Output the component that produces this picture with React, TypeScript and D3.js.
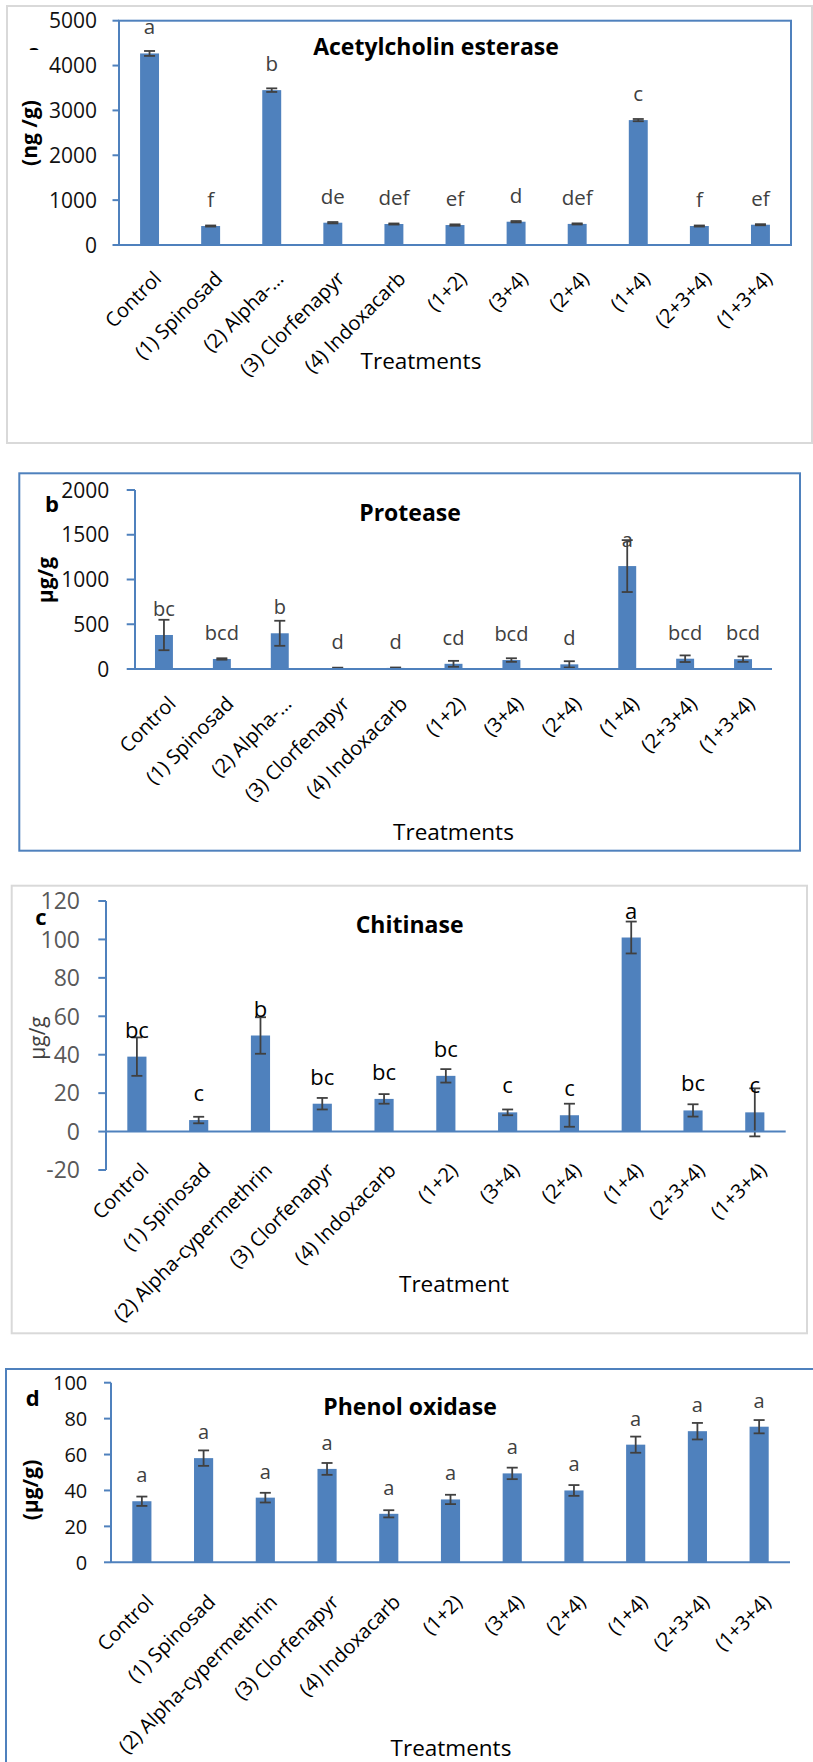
import React from 'react';
import * as d3 from 'd3';

// ---------- data ----------
const categoriesShort = ['Control', '(1) Spinosad', '(2) Alpha-…', '(3) Clorfenapyr', '(4) Indoxacarb', '(1+2)', '(3+4)', '(2+4)', '(1+4)', '(2+3+4)', '(1+3+4)'];
const categoriesFull = ['Control', '(1) Spinosad', '(2) Alpha-cypermethrin', '(3) Clorfenapyr', '(4) Indoxacarb', '(1+2)', '(3+4)', '(2+4)', '(1+4)', '(2+3+4)', '(1+3+4)'];

const acheMeans = [4270, 423, 3452, 497, 468, 445, 519, 470, 2784, 423, 452];
const acheErrors = [55, 12, 40, 15, 12, 15, 15, 12, 25, 12, 12];
const acheLetters = ['a', 'f', 'b', 'de', 'def', 'ef', 'd', 'def', 'c', 'f', 'ef'];
const acheTicks = [0, 1000, 2000, 3000, 4000, 5000];

const proteaseMeans = [380, 112, 399, 10, 12, 58, 100, 52, 1150, 115, 110];
const proteaseErrors = [170, 8, 140, 5, 5, 33, 20, 35, 290, 37, 30];
const proteaseLetters = ['bc', 'bcd', 'b', 'd', 'd', 'cd', 'bcd', 'd', 'a', 'bcd', 'bcd'];
const proteaseTicks = [0, 500, 1000, 1500, 2000];

const chitinaseMeans = [39, 6, 50, 14.5, 17, 29, 10, 8.5, 101, 11, 10];
const chitinaseErrors = [10, 1.7, 9.5, 3, 2.5, 3.5, 1.5, 6, 8.3, 3.2, 12.5];
const chitinaseLetters = ['bc', 'c', 'b', 'bc', 'bc', 'bc', 'c', 'c', 'a', 'bc', 'c'];
const chitinaseTicks = [-20, 0, 20, 40, 60, 80, 100, 120];

const phenolMeans = [34, 58, 36, 52, 27, 35, 49.5, 40, 65.5, 73, 75.5];
const phenolErrors = [2.6, 4.3, 2.7, 3.3, 2, 2.6, 3.2, 3, 4.5, 4.6, 3.7];
const phenolLetters = ['a', 'a', 'a', 'a', 'a', 'a', 'a', 'a', 'a', 'a', 'a'];
const phenolTicks = [0, 20, 40, 60, 80, 100];

// ---------- style ----------
const FONT = "'Open Sans', 'Noto Sans', sans-serif";
const BAR = '#4f81bd';
const BLUE = '#4f81bd';
const ERR = '#404040';
const GRAYFRAME = '#d9d9d9';
const CAT_SIZE = 20;

type TextSpec = { text: string; x: number; y: number; size?: number; weight?: number; color?: string };

type PanelCfg = {
  id: string;
  cats: string[];
  means: number[];
  errors: number[];
  letters: string[];
  ticks: number[];
  domain: [number, number];
  frame: { x: number; y: number; w: number; h: number; stroke: string };
  left: number;
  right: number;
  yTop: number;
  yBottom: number;
  box: boolean;
  tickLen: number;
  tickGap: number;
  tickSize: number;
  tickColor: string;
  letterSize: number;
  letterColor: string;
  labelGap: number;
  title: TextSpec;
  xTitle: TextSpec;
  yTitle: TextSpec;
  tag?: TextSpec;
};

const panels: PanelCfg[] = [
  {
    id: 'a', cats: categoriesShort, means: acheMeans, errors: acheErrors, letters: acheLetters, ticks: acheTicks,
    domain: [0, 5000],
    frame: { x: 7, y: 6, w: 805, h: 437, stroke: GRAYFRAME },
    left: 119, right: 791, yTop: 20.7, yBottom: 245, box: true,
    tickLen: 6.5, tickGap: 22, tickSize: 21, tickColor: '#111',
    letterSize: 20.5, letterColor: '#404040', labelGap: 25,
    title: { text: 'Acetylcholin esterase', x: 436, y: 55 },
    xTitle: { text: 'Treatments', x: 421, y: 369 },
    yTitle: { text: '(ng /g)', x: 30, y: 133, size: 21, weight: 700, color: '#000' },
  },
  {
    id: 'b', cats: categoriesShort, means: proteaseMeans, errors: proteaseErrors, letters: proteaseLetters, ticks: proteaseTicks,
    domain: [0, 2000],
    frame: { x: 19.3, y: 473.3, w: 780.7, h: 377.4, stroke: BLUE },
    left: 135, right: 772, yTop: 490, yBottom: 669, box: false,
    tickLen: 8.3, tickGap: 25.7, tickSize: 21, tickColor: '#111',
    letterSize: 20, letterColor: '#404040', labelGap: 26,
    title: { text: 'Protease', x: 410, y: 521 },
    xTitle: { text: 'Treatments', x: 453.5, y: 840 },
    yTitle: { text: 'µg/g', x: 46, y: 580, size: 21, weight: 700, color: '#000' },
    tag: { text: 'b', x: 52, y: 511.7 },
  },
  {
    id: 'c', cats: categoriesFull, means: chitinaseMeans, errors: chitinaseErrors, letters: chitinaseLetters, ticks: chitinaseTicks,
    domain: [-20, 120],
    frame: { x: 11.7, y: 885.7, w: 795.3, h: 447.6, stroke: GRAYFRAME },
    left: 106, right: 785.7, yTop: 901, yBottom: 1170, box: false,
    tickLen: 7.7, tickGap: 26, tickSize: 23, tickColor: '#595959',
    letterSize: 22, letterColor: '#000', labelGap: 30,
    title: { text: 'Chitinase', x: 409.6, y: 933 },
    xTitle: { text: 'Treatment', x: 454, y: 1292 },
    yTitle: { text: 'µg/g', x: 38, y: 1038, size: 21, weight: 400, color: '#404040' },
    tag: { text: 'c', x: 41, y: 925 },
  },
  {
    id: 'd', cats: categoriesFull, means: phenolMeans, errors: phenolErrors, letters: phenolLetters, ticks: phenolTicks,
    domain: [0, 100],
    frame: { x: 6, y: 1369, w: 820, h: 420, stroke: BLUE },
    left: 111, right: 790, yTop: 1382.7, yBottom: 1562.3, box: false,
    tickLen: 7, tickGap: 23.7, tickSize: 20, tickColor: '#111',
    letterSize: 20, letterColor: '#404040', labelGap: 31,
    title: { text: 'Phenol oxidase', x: 410, y: 1415 },
    xTitle: { text: 'Treatments', x: 451, y: 1756 },
    yTitle: { text: '(µg/g)', x: 31, y: 1490, size: 21, weight: 700, color: '#000' },
    tag: { text: 'd', x: 32.7, y: 1406 },
  },
];

function Panel({ p }: { p: PanelCfg }) {
  const x = d3.scaleBand<string>().domain(p.cats).range([p.left, p.right]).paddingInner(0.69).paddingOuter(0.345);
  const y = d3.scaleLinear().domain(p.domain).range([p.yBottom, p.yTop]);
  const y0 = y(0);
  const bw = x.bandwidth();
  const cap = 11;
  return (
    <g>
      <rect x={p.frame.x} y={p.frame.y} width={p.frame.w} height={p.frame.h} fill="none" stroke={p.frame.stroke} strokeWidth={2} />
      {/* bars */}
      {p.cats.map((c, i) => {
        const v = p.means[i];
        const top = Math.min(y(v), y0);
        const h = Math.abs(y(v) - y0);
        return <rect key={'bar' + i} x={x(c)!} y={top} width={bw} height={h} fill={BAR} />;
      })}
      {/* error bars */}
      {p.cats.map((c, i) => {
        const cx = x(c)! + bw / 2;
        const hi = y(p.means[i] + p.errors[i]);
        const lo = y(p.means[i] - p.errors[i]);
        return (
          <g key={'err' + i} stroke={ERR} strokeWidth={1.8}>
            <line x1={cx} x2={cx} y1={hi} y2={lo} />
            <line x1={cx - cap / 2} x2={cx + cap / 2} y1={hi} y2={hi} />
            <line x1={cx - cap / 2} x2={cx + cap / 2} y1={lo} y2={lo} />
          </g>
        );
      })}
      {/* axes */}
      {p.box ? (
        <rect x={p.left} y={p.yTop} width={p.right - p.left} height={p.yBottom - p.yTop} fill="none" stroke={BLUE} strokeWidth={2} />
      ) : (
        <line x1={p.left} x2={p.left} y1={p.yTop} y2={p.yBottom} stroke={BLUE} strokeWidth={2} />
      )}
      <line x1={p.left} x2={p.right} y1={y0} y2={y0} stroke={BLUE} strokeWidth={2} />
      {p.ticks.map((t) => (
        <g key={'t' + t}>
          <line x1={p.left - p.tickLen} x2={p.left} y1={y(t)} y2={y(t)} stroke={BLUE} strokeWidth={2} />
          <text x={p.left - p.tickGap} y={y(t)} dy="0.36em" textAnchor="end" fontSize={p.tickSize} fill={p.tickColor} fontFamily={FONT}>
            {t}
          </text>
        </g>
      ))}
      {/* significance letters */}
      {p.cats.map((c, i) => (
        <text key={'l' + i} x={x(c)! + bw / 2} y={y(p.means[i]) - 19} textAnchor="middle" fontSize={p.letterSize} fill={p.letterColor} fontFamily={FONT}>
          {p.letters[i]}
        </text>
      ))}
      {/* category labels */}
      {p.cats.map((c, i) => {
        const px = x(c)! + bw / 2 + 13;
        const py = y0 + p.labelGap + 10;
        return (
          <text key={'c' + i} transform={`translate(${px},${py}) rotate(-45)`} textAnchor="end" fontSize={CAT_SIZE} fill="#000" fontFamily={FONT}>
            {c}
          </text>
        );
      })}
      {/* titles */}
      <text x={p.title.x} y={p.title.y} textAnchor="middle" fontSize={23} fontWeight={700} fill="#000" fontFamily={FONT}>
        {p.title.text}
      </text>
      <text x={p.xTitle.x} y={p.xTitle.y} textAnchor="middle" fontSize={22.5} fill="#000" fontFamily={FONT}>
        {p.xTitle.text}
      </text>
      <text
        transform={`translate(${p.yTitle.x},${p.yTitle.y}) rotate(-90)`}
        dy="0.35em"
        textAnchor="middle"
        fontSize={p.yTitle.size}
        fontWeight={p.yTitle.weight}
        fill={p.yTitle.color}
        fontFamily={FONT}
      >
        {p.yTitle.text}
      </text>
      {p.tag && (
        <text x={p.tag.x} y={p.tag.y} textAnchor="middle" fontSize={22} fontWeight={700} fill="#000" fontFamily={FONT}>
          {p.tag.text}
        </text>
      )}
    </g>
  );
}

export default function App() {
  return (
    <svg
      width={813}
      height={1762}
      viewBox="0 0 813 1762"
      style={{ position: 'absolute', left: 0, top: 0, background: '#fff' }}
    >
      <rect x={0} y={0} width={813} height={1762} fill="#fff" />
      <defs>
        <clipPath id="markClip">
          <rect x={25} y={41} width={20} height={9} />
        </clipPath>
      </defs>
      <text x={34} y={60} textAnchor="middle" fontSize={21} fontWeight={700} fill="#000" fontFamily={FONT} clipPath="url(#markClip)">
        a
      </text>
      {panels.map((p) => (
        <Panel key={p.id} p={p} />
      ))}
    </svg>
  );
}
